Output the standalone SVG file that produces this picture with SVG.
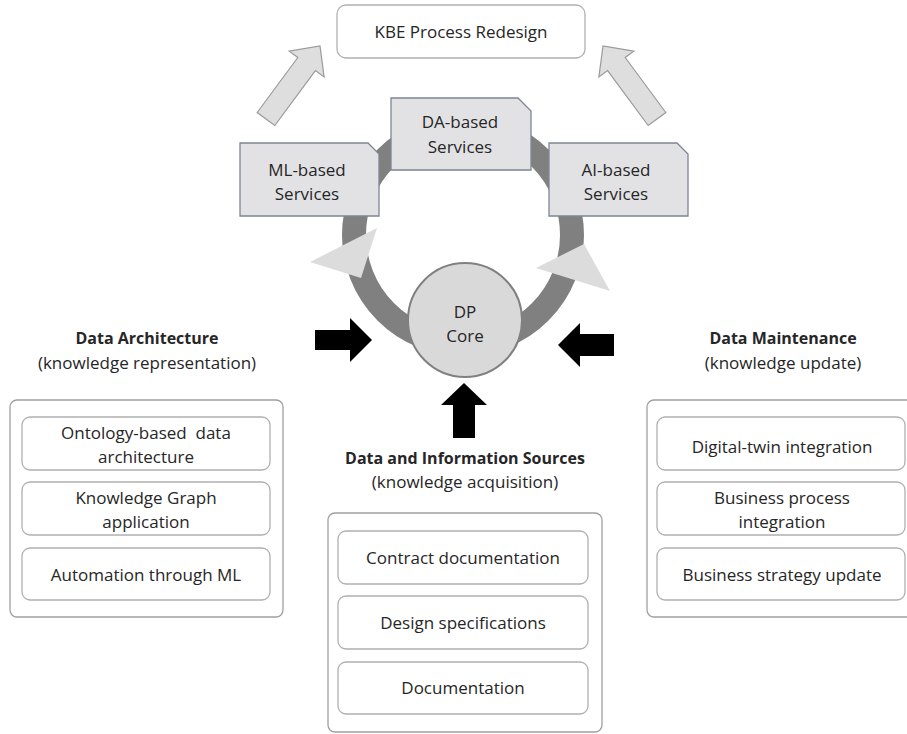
<svg xmlns="http://www.w3.org/2000/svg" width="907" height="734" viewBox="0 0 907 734">
<style>
text{font-family:"Open Sans","Liberation Sans",Arial,sans-serif;font-size:17px;fill:#262626;text-anchor:middle}
.b{font-weight:bold;font-size:16px}
.outer{fill:#fff;stroke:#a0a0a0;stroke-width:1.3}
.inner{fill:#fff;stroke:#b0b0b0;stroke-width:1.3}
.svc{fill:#e2e2e5;stroke:#7d8594;stroke-width:1.3}
.hollow{fill:#dedede;stroke:#9a9a9a;stroke-width:1.2}
.tri{fill:#dcdcdc}
.blk{fill:#000}
</style>
<rect width="907" height="734" fill="#fff"/>
<g id="ring">
<circle cx="463" cy="235" r="109" fill="none" stroke="#808080" stroke-width="24"/>
</g>
<g id="connectors">
<polygon class="tri" points="310,262 377,228 361,278"/>
<polygon class="tri" points="536,268 584,244 610,291"/>
<polygon class="hollow" points="274.8,125.5 315.4,70.6 324.1,77 320,46 289.2,51.2 297.8,57.5 257.2,112.5"/>
<polygon class="hollow" points="648.2,125.5 607.6,70.6 598.9,77 603,46 633.8,51.2 625.2,57.5 665.8,112.5"/>
<polygon class="blk" points="315,330 350,330 350,318 372,340 350,362 350,350 315,350"/>
<polygon class="blk" points="614,334 580,334 580,323 558,345 580,367 580,356 614,356"/>
<polygon class="blk" points="464,383 487,405 475,405 475,438 453,438 453,405 441,405"/>
</g>
<g id="kbe">
<rect x="337" y="5" width="248" height="53" rx="9" fill="#fff" stroke="#b0b0b0" stroke-width="1.3"/>
<text x="461" y="38">KBE Process Redesign</text>
</g>
<g id="ml">
<path class="svc" d="M240,143 H368 L379,154 V216 H240 Z"/>
<text x="307" y="176">ML-based</text>
<text x="307" y="200">Services</text>
</g>
<g id="da">
<path class="svc" d="M391,98 H518 L531,111 V170 H391 Z"/>
<text x="460" y="128">DA-based</text>
<text x="460" y="153">Services</text>
</g>
<g id="ai">
<path class="svc" d="M549,143 H677 L688,154 V216 H549 Z"/>
<text x="616" y="176">AI-based</text>
<text x="616" y="200">Services</text>
</g>
<g id="core">
<circle cx="465" cy="320" r="57" fill="#d9d9d9" stroke="#808080" stroke-width="2"/>
<text x="465" y="318">DP</text>
<text x="465" y="342">Core</text>
</g>
<g id="data-architecture">
<text class="b" x="147" y="344">Data Architecture</text>
<text x="147" y="369">(knowledge representation)</text>
<rect class="outer" x="10" y="400" width="273" height="217" rx="7"/>
<rect class="inner" x="22" y="417" width="248" height="53" rx="8"/>
<text x="146" y="439" xml:space="preserve">Ontology-based  data</text>
<text x="146" y="463">architecture</text>
<rect class="inner" x="22" y="482" width="248" height="53" rx="8"/>
<text x="146" y="504">Knowledge Graph</text>
<text x="146" y="528">application</text>
<rect class="inner" x="22" y="548" width="248" height="52" rx="8"/>
<text x="146" y="581">Automation through ML</text>
</g>
<g id="data-sources">
<text class="b" x="465" y="464">Data and Information Sources</text>
<text x="465" y="488">(knowledge acquisition)</text>
<rect class="outer" x="328" y="513" width="274" height="219" rx="7"/>
<rect class="inner" x="338" y="531" width="250" height="53" rx="8"/>
<text x="463" y="564">Contract documentation</text>
<rect class="inner" x="338" y="596" width="250" height="53" rx="8"/>
<text x="463" y="629">Design specifications</text>
<rect class="inner" x="338" y="662" width="250" height="52" rx="8"/>
<text x="463" y="694">Documentation</text>
</g>
<g id="data-maintenance">
<text class="b" x="783" y="344">Data Maintenance</text>
<text x="783" y="369">(knowledge update)</text>
<rect class="outer" x="647" y="400" width="270" height="217" rx="7"/>
<rect class="inner" x="657" y="417" width="248" height="53" rx="8"/>
<text x="782" y="453">Digital-twin integration</text>
<rect class="inner" x="657" y="482" width="248" height="53" rx="8"/>
<text x="782" y="504">Business process</text>
<text x="782" y="528">integration</text>
<rect class="inner" x="657" y="548" width="248" height="52" rx="8"/>
<text x="782" y="581">Business strategy update</text>
</g>
</svg>
